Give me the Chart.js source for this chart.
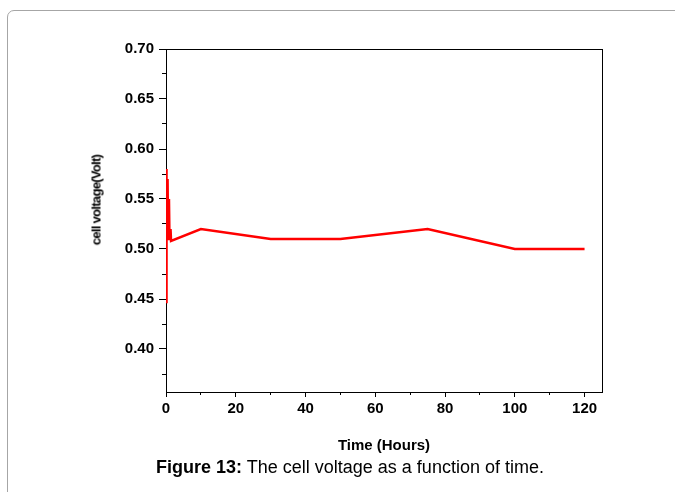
<!DOCTYPE html>
<html>
<head>
<meta charset="utf-8">
<script src="https://cdn.jsdelivr.net/npm/chart.js@4/dist/chart.umd.min.js"></script>
<style>
	body { margin: 0; background: #fff; width: 675px; height: 492px; overflow: hidden; position: relative; font-family: "Liberation Sans", Arial, sans-serif; }
	#frame { position: absolute; left: 7px; top: 10px; width: 720px; height: 520px; border: 1px solid #a6a6a6; border-radius: 7px; }
	#chart { position: absolute; left: 0; top: 0; }
	#ytitle { position: absolute; left: 96px; top: 200px; transform: translate(-50%, -50%) rotate(-90deg); font-weight: bold; font-size: 13px; letter-spacing: -0.7px; white-space: nowrap; color: #000; }
	#caption { position: absolute; left: 50px; width: 600px; top: 457px; text-align: center; font-size: 18px; color: #000; }
</style>
</head>
<body>
<div id="frame"></div>
<canvas id="chart" width="675" height="492"></canvas>
<div id="ytitle">cell voltage(Volt)</div>
<div id="caption"><b>Figure 13:</b> The cell voltage as a function of time.</div>
<script>
// time in hours, cell voltage in volt
var timeHours = [0, 0.05, 0.25, 0.45, 0.6, 0.85, 1.0, 1.3, 1.45, 10, 30, 50, 75, 100, 120];
var voltage = [0.447, 0.58, 0.51, 0.57, 0.51, 0.55, 0.51, 0.52, 0.508, 0.52, 0.51, 0.51, 0.52, 0.50, 0.50];

var xTicks = [0, 20, 40, 60, 80, 100, 120];
var xMinorTicks = [10, 30, 50, 70, 90, 110];
var yTicks = [0.40, 0.45, 0.50, 0.55, 0.60, 0.65, 0.70];
var yMinorTicks = [0.375, 0.425, 0.475, 0.525, 0.575, 0.625, 0.675];

var points = [];
for (var i = 0; i < timeHours.length; ++i) {
	points.push({ x: timeHours[i], y: voltage[i] });
}

var tickFont = { family: "Liberation Sans", size: 15, weight: "bold" };

function useTicks(list) {
	return function(scale) {
		scale.ticks = list.map(function(v) { return { value: v }; });
	};
}

function edgeAxis(pos) {
	return {
		type: "linear",
		position: pos,
		min: 0,
		max: 1,
		ticks: { display: false },
		grid: { drawOnChartArea: false, drawTicks: false },
		border: { color: "#000", width: 1 },
		afterFit: function(s) {
			if (pos == "top") s.height = 0; else s.width = 0;
		}
	};
}

new Chart(document.getElementById("chart").getContext("2d"), {
	type: "line",
	data: {
		datasets: [
			{
				data: points,
				borderColor: "#ff0000",
				borderWidth: 2.5,
				pointRadius: 0,
				tension: 0,
				fill: false
			}
		]
	},
	options: {
		responsive: false,
		animation: false,
		devicePixelRatio: 1,
		layout: { padding: { left: 0, top: 49, right: 73, bottom: 35 } },
		plugins: { legend: { display: false }, tooltip: { enabled: false } },
		scales: {
			x: {
				type: "linear",
				position: "bottom",
				weight: 1,
				min: 0,
				max: 125,
				afterBuildTicks: useTicks(xTicks),
				ticks: { font: tickFont, color: "#000", padding: 3, autoSkip: false, maxRotation: 0 },
				grid: { drawOnChartArea: false, tickLength: 5, tickColor: "#000" },
				border: { color: "#000", width: 1 },
				title: {
					display: true,
					text: "Time (Hours)",
					color: "#000",
					font: { family: "Liberation Sans", size: 15, weight: "bold" },
					padding: { top: 0, bottom: 2 }
				},
				afterFit: function(s) { s.height = 65; }
			},
			xMinor: {
				type: "linear",
				position: "bottom",
				weight: 0,
				min: 0,
				max: 125,
				afterBuildTicks: useTicks(xMinorTicks),
				ticks: { display: false },
				grid: { drawOnChartArea: false, tickLength: 3, tickColor: "#000" },
				border: { display: false },
				afterFit: function(s) { s.height = 0; }
			},
			y: {
				type: "linear",
				position: "left",
				weight: 1,
				min: 0.357,
				max: 0.70,
				afterBuildTicks: useTicks(yTicks),
				ticks: {
					font: tickFont,
					color: "#000",
					padding: 5,
					callback: function(v) { return v.toFixed(2); }
				},
				grid: { drawOnChartArea: false, tickLength: 7, tickColor: "#000" },
				border: { color: "#000", width: 1 },
				afterFit: function(s) { s.width = 166; }
			},
			yMinor: {
				type: "linear",
				position: "left",
				weight: 0,
				min: 0.357,
				max: 0.70,
				afterBuildTicks: useTicks(yMinorTicks),
				ticks: { display: false },
				grid: { drawOnChartArea: false, tickLength: 4, tickColor: "#000" },
				border: { display: false },
				afterFit: function(s) { s.width = 0; }
			},
			xTop: edgeAxis("top"),
			yRight: edgeAxis("right")
		}
	}
});
</script>
</body>
</html>
